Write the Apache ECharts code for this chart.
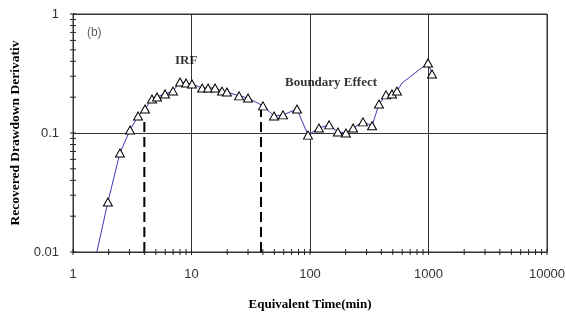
<!DOCTYPE html>
<html><head><meta charset="utf-8">
<script src="https://cdn.jsdelivr.net/npm/echarts@6/dist/echarts.min.js"></script>
<style>html,body{margin:0;padding:0;background:#fff}#c{width:566px;height:314px}</style>
</head><body><div id="c"></div>
<script>
// Data
const timeMin = [1.59, 1.97, 2.49, 3.03, 3.54, 4.05, 4.64, 5.12, 5.98, 6.98, 8.0, 8.99, 10.1, 12.3, 13.8, 15.8, 18.1, 19.9, 25.2, 30.0, 40.1, 49.7, 59.2, 77.7, 96.2, 119, 145, 172, 201, 231, 280, 334, 382, 438, 492, 542, 598, 991, 1071];
const derivative = [0.0100, 0.0263, 0.068, 0.106, 0.139, 0.159, 0.193, 0.201, 0.213, 0.225, 0.268, 0.263, 0.258, 0.239, 0.239, 0.239, 0.225, 0.221, 0.205, 0.197, 0.169, 0.139, 0.142, 0.159, 0.096, 0.110, 0.117, 0.102, 0.100, 0.110, 0.124, 0.115, 0.175, 0.209, 0.213, 0.225, 0.263, 0.388, 0.313];
const hiddenMarker = [0, 36];
const dashedX = [4.0, 38.6];
const dashedTop = [0.134, 0.179];
const xTickLabels = ['1', '10', '100', '1000', '10000'];
const yTickLabels = ['0.01', '0.1', '1'];
const xTicks = [1,2,3,4,5,6,7,8,9,10,20,30,40,50,60,70,80,90,100,200,300,400,500,600,700,800,900,1000,2000,3000,4000,5000,6000,7000,8000,9000,10000];
const yTicks = [0.01,0.02,0.03,0.04,0.05,0.06,0.07,0.08,0.09,0.1,0.2,0.3,0.4,0.5,0.6,0.7,0.8,0.9,1];
const notes = [
  {text: '(b)', x: 1.31, y: 0.69, bold: false},
  {text: 'IRF', x: 7.26, y: 0.403, bold: true},
  {text: 'Boundary Effect', x: 61.5, y: 0.263, bold: true}
];

const chart = echarts.init(document.getElementById('c'));
const gridCol = '#333';
const serif = '"Liberation Serif", "DejaVu Serif", serif';
const sans = '"Liberation Sans", Arial, sans-serif';

const lineData = timeMin.map((t, i) => hiddenMarker.includes(i) ? {value: [t, derivative[i]], symbol: 'none'} : [t, derivative[i]]);

// tick marks crossing the axes: [x, y, orientation(0 = x-axis tick, 1 = y-axis tick)]
const tickData = xTicks.map(v => [v, 0.01, 0]).concat(yTicks.map(v => [1, v, 1]));

const series = [
  {
    type: 'line', data: lineData, symbol: 'triangle', symbolSize: [9, 8],
    showSymbol: true, z: 4,
    lineStyle: {color: '#3a3ab4', width: 1},
    itemStyle: {color: '#fff', borderColor: '#000', borderWidth: 1},
    emphasis: {disabled: true}
  },
  {
    type: 'custom', clip: false, z: 5,
    data: tickData,
    renderItem: (params, api) => {
      const p = api.coord([api.value(0), api.value(1)]);
      const isX = api.value(2) === 0;
      const len = 3;
      return {
        type: 'line',
        shape: isX ? {x1: p[0], y1: p[1] - len, x2: p[0], y2: p[1] + len}
                   : {x1: p[0] - len, y1: p[1], x2: p[0] + len, y2: p[1]},
        style: {stroke: '#222', lineWidth: 1}
      };
    }
  },
  {
    type: 'scatter', symbolSize: 0, z: 6,
    data: notes.map(n => ({value: [n.x, n.y], name: n.text,
      label: {show: true, position: 'inside', align: 'left', verticalAlign: 'middle', formatter: n.text,
        fontFamily: n.bold ? serif : sans, fontWeight: n.bold ? 'bold' : 'normal',
        fontSize: n.bold ? 13 : 12, color: n.bold ? '#000' : '#333'}}))
  }
];
dashedX.forEach((x, i) => series.push({
  type: 'line', data: [[x, 0.01], [x, dashedTop[i]]], symbol: 'none', z: 3,
  lineStyle: {color: '#000', width: 2, type: [10, 5]}
}));

chart.setOption({
  animation: false,
  backgroundColor: '#fff',
  grid: {left: 73, right: 19, top: 14, bottom: 62, containLabel: false, outerBoundsMode: 'none',
    show: true, borderColor: gridCol, borderWidth: 1},
  xAxis: {
    type: 'log', logBase: 10, min: 1, max: 10000,
    name: 'Equivalent Time(min)', nameLocation: 'middle', nameGap: 46,
    nameTextStyle: {fontFamily: serif, fontWeight: 'bold', fontSize: 13, color: '#000'},
    axisLine: {show: true, lineStyle: {color: gridCol, width: 1}},
    axisTick: {show: false},
    axisLabel: {margin: 16, fontFamily: sans, fontSize: 13, color: '#333',
      formatter: v => xTickLabels[Math.round(Math.log10(v))]},
    splitLine: {show: true, lineStyle: {color: gridCol, width: 1}},
    minorTick: {show: false}
  },
  yAxis: {
    type: 'log', logBase: 10, min: 0.01, max: 1,
    name: 'Recovered Drawdown Derivativ', nameLocation: 'middle', nameGap: 48,
    nameTextStyle: {fontFamily: serif, fontWeight: 'bold', fontSize: 13.5, color: '#000'},
    axisLine: {show: true, lineStyle: {color: gridCol, width: 1}},
    axisTick: {show: false},
    axisLabel: {margin: 14, fontFamily: sans, fontSize: 13, color: '#333',
      formatter: v => yTickLabels[Math.round(Math.log10(v)) + 2]},
    splitLine: {show: true, lineStyle: {color: gridCol, width: 1}},
    minorTick: {show: false}
  },
  series
});
</script></body></html>
